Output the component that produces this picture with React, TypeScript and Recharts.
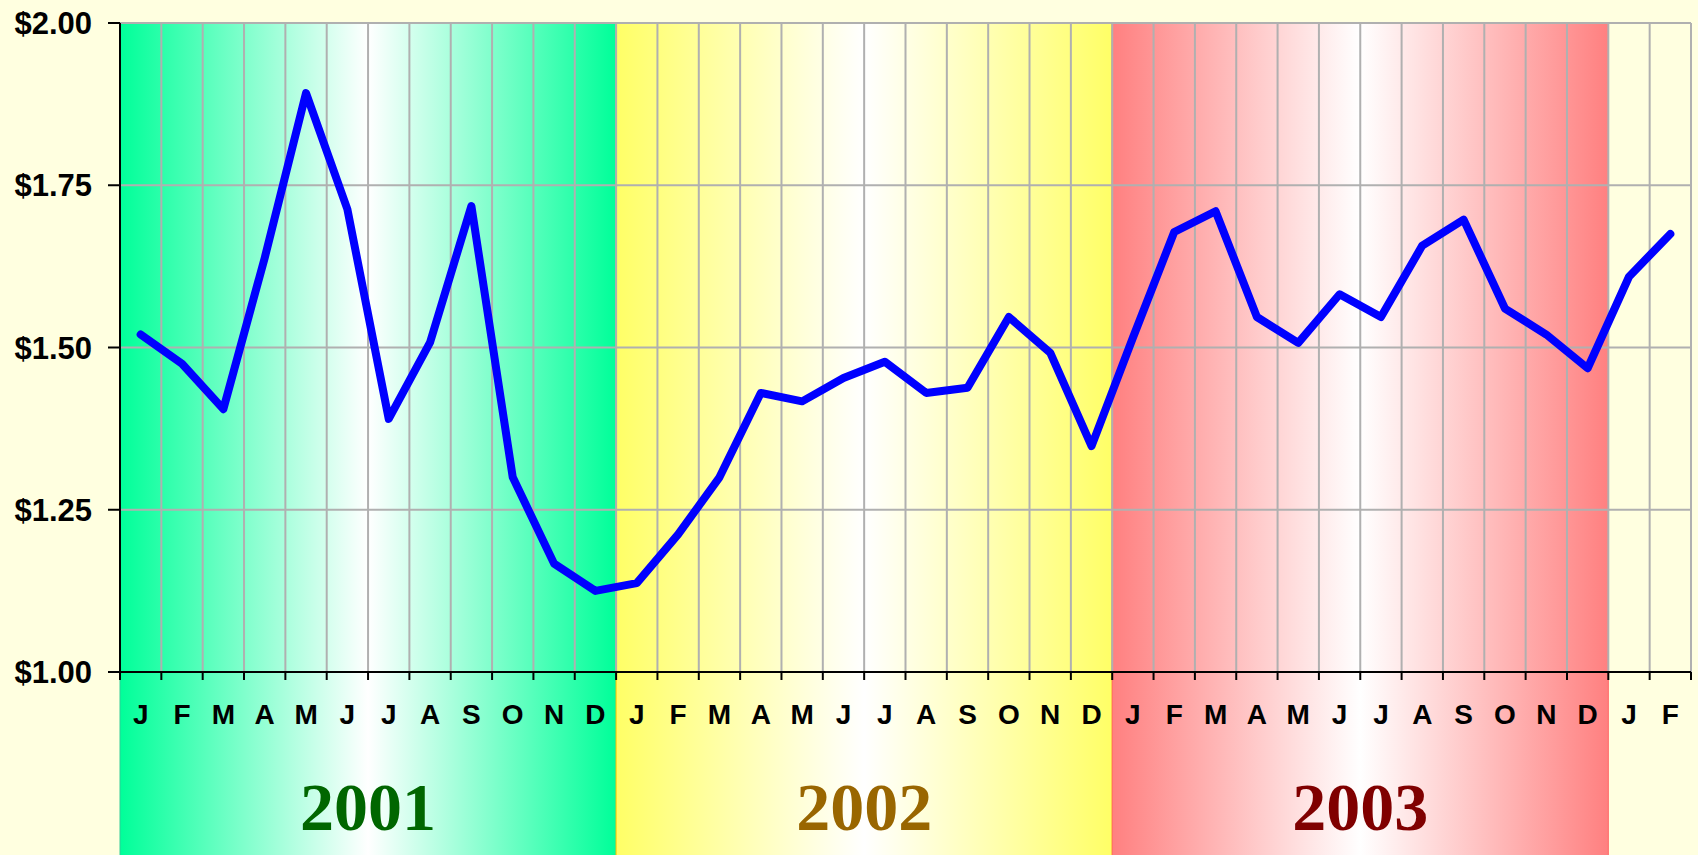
import React from 'react';
import { LineChart, Line, XAxis, YAxis, CartesianGrid, ReferenceArea } from 'recharts';

const MONTH_LABELS = [
  'J', 'F', 'M', 'A', 'M', 'J', 'J', 'A', 'S', 'O', 'N', 'D',
  'J', 'F', 'M', 'A', 'M', 'J', 'J', 'A', 'S', 'O', 'N', 'D',
  'J', 'F', 'M', 'A', 'M', 'J', 'J', 'A', 'S', 'O', 'N', 'D',
  'J', 'F',
];
const PRICES_2001 = [1.52, 1.475, 1.405, 1.638, 1.892, 1.713, 1.39, 1.508, 1.718, 1.3, 1.167, 1.125];
const PRICES_2002 = [1.137, 1.212, 1.3, 1.43, 1.417, 1.453, 1.478, 1.43, 1.438, 1.547, 1.492, 1.348];
const PRICES_2003 = [1.515, 1.678, 1.71, 1.547, 1.507, 1.582, 1.547, 1.657, 1.697, 1.56, 1.52, 1.468];
const PRICES_2004 = [1.609, 1.675];
const YEARS = ['2001', '2002', '2003'];
const YEAR_LENGTH = 12;
const Y_TICKS = [1, 1.25, 1.5, 1.75, 2];

const YEAR_COLORS = ['#006600', '#996600', '#800000'];
const BAND_COLORS = ['#00FF99', '#FFFF66', '#FF8080'];
const BAND_EDGES = ['#33CC99', '#FFCC00', '#FF6666'];

const W = 1698;
const H = 855;
const M = { top: 23, right: 7, left: 0, bottom: 0 };
const Y_AXIS_W = 120;
const MONTH_AXIS_H = 60;
const YEAR_AXIS_H = 123;
const N = MONTH_LABELS.length;
const HALF_BAND = (W - Y_AXIS_W - M.left - M.right) / N / 2;
const BAND_FLOOR = 0.6;

const prices = [...PRICES_2001, ...PRICES_2002, ...PRICES_2003, ...PRICES_2004];
const data = prices.map((p, i) => ({ x: i + 0.5, price: p }));
const monthTicks = Array.from({ length: N + 1 }, (_, i) => i);
const yearTicks = YEARS.map((_, i) => i * YEAR_LENGTH + YEAR_LENGTH / 2);

const MonthTick = (props: any) => {
  const { x, y, payload } = props;
  const label = MONTH_LABELS[payload.value];
  if (label === undefined) return <g />;
  return (
    <text
      x={x + HALF_BAND}
      y={y + 44}
      textAnchor="middle"
      fontFamily="'Liberation Sans', Arial, sans-serif"
      fontWeight="bold"
      fontSize={28}
      fill="#000"
    >
      {label}
    </text>
  );
};

const YearTick = (props: any) => {
  const { x, y, index } = props;
  return (
    <text
      x={x}
      y={y + 98}
      textAnchor="middle"
      fontFamily="'Liberation Serif', 'Times New Roman', serif"
      fontWeight="bold"
      fontSize={68}
      fill={YEAR_COLORS[index]}
    >
      {YEARS[index]}
    </text>
  );
};

export default function App() {
  return (
    <div style={{ position: 'absolute', left: 0, top: 0, width: W, height: H, background: '#FFFFE0' }}>
      <LineChart width={W} height={H} data={data} margin={M}>
        <defs>
          {BAND_COLORS.map((c, i) => (
            <linearGradient key={i} id={`band${i}`} x1="0" y1="0" x2="1" y2="0">
              <stop offset="0%" stopColor={c} />
              <stop offset="50%" stopColor="#FFFFFF" />
              <stop offset="100%" stopColor={c} />
            </linearGradient>
          ))}
        </defs>
        {YEARS.map((yr, i) => (
          <ReferenceArea
            key={yr}
            x1={i * YEAR_LENGTH}
            x2={(i + 1) * YEAR_LENGTH}
            y1={BAND_FLOOR}
            y2={2}
            ifOverflow="visible"
            fill={`url(#band${i})`}
            fillOpacity={1}
            stroke={BAND_EDGES[i]}
            strokeWidth={1}
            zIndex={-200}
          />
        ))}
        <CartesianGrid stroke="#B0B0B0" strokeWidth={2} zIndex={-100} />
        <XAxis
          xAxisId={0}
          dataKey="x"
          type="number"
          domain={[0, N]}
          ticks={monthTicks}
          interval={0}
          height={MONTH_AXIS_H}
          tickSize={8}
          tickMargin={0}
          axisLine={{ stroke: '#000', strokeWidth: 2 }}
          tickLine={{ stroke: '#000', strokeWidth: 2 }}
          tick={MonthTick}
          allowDataOverflow
        />
        <XAxis
          xAxisId="year"
          dataKey="x"
          type="number"
          domain={[0, N]}
          ticks={yearTicks}
          interval={0}
          height={YEAR_AXIS_H}
          tickSize={0}
          tickMargin={0}
          axisLine={false}
          tickLine={false}
          tick={YearTick}
        />
        <YAxis
          type="number"
          domain={[1, 2]}
          ticks={Y_TICKS}
          interval={0}
          width={Y_AXIS_W}
          tickSize={12}
          tickMargin={16}
          axisLine={{ stroke: '#000', strokeWidth: 2 }}
          tickLine={{ stroke: '#000', strokeWidth: 2 }}
          tickFormatter={(v: number) => `$${v.toFixed(2)}`}
          tick={{ fill: '#000', fontSize: 31, fontWeight: 'bold', fontFamily: "'Liberation Sans', Arial, sans-serif" }}
          allowDataOverflow
        />
        <Line
          type="linear"
          dataKey="price"
          stroke="#0000FF"
          strokeWidth={8}
          dot={false}
          strokeLinejoin="round"
          strokeLinecap="round"
          isAnimationActive={false}
        />
      </LineChart>
    </div>
  );
}
